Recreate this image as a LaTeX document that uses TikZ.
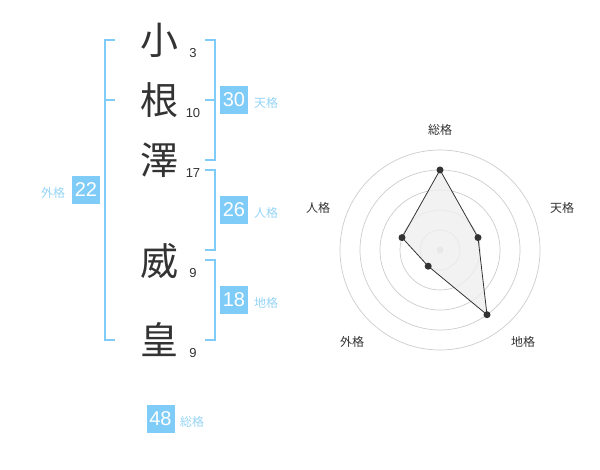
\documentclass[tikz,border=0pt]{standalone}
\usepackage{fontspec}
\setmainfont{Liberation Sans}
\newfontfamily\jp{Noto Sans CJK JP}
\definecolor{sky}{RGB}{128,204,248}
\definecolor{skylab}{RGB}{150,212,246}
\definecolor{ink}{RGB}{51,51,51}
\definecolor{ring}{RGB}{204,204,204}
\begin{document}
\begin{tikzpicture}[x=1pt,y=-1pt,
  kanji/.style={font=\jp\fontsize{38}{38}\selectfont, text=ink, inner sep=0pt},
  strokes/.style={font=\fontsize{13}{13}\selectfont, text=ink, inner sep=0pt},
  numbox/.style={fill=sky, text=white, minimum width=28pt, minimum height=28pt, inner sep=0pt, font=\fontsize{20}{20}\selectfont},
  lab/.style={font=\jp\fontsize{12}{12}\selectfont, text=skylab, inner sep=0pt},
  rlab/.style={font=\jp\fontsize{12}{12}\selectfont, text=ink, inner sep=0pt},
  brk/.style={draw=sky, line width=2pt},
  ringline/.style={draw=ring, line width=0.7pt},
  dot/.style={circle, fill=ink, minimum size=7pt, inner sep=0pt}]
\useasboundingbox (0,0) rectangle (600,470);
% characters
\node[kanji] (c1) at (159,40) {小};
\node[kanji] (c2) at (159,100) {根};
\node[kanji] (c3) at (159,160) {澤};
\node[kanji] (c4) at (159,261) {威};
\node[kanji] (c5) at (159,340) {皇};
\node[strokes] (s1) at (193,53) {3};
\node[strokes] (s2) at (193,113) {10};
\node[strokes] (s3) at (193,173) {17};
\node[strokes] (s4) at (193,273) {9};
\node[strokes] (s5) at (193,353) {9};
% brackets
\draw[brk] (115,40) -- (105,40) -- (105,340) -- (115,340);
\draw[brk] (105,100) -- (115,100);
\draw[brk] (205,40) -- (215,40) -- (215,160) -- (205,160);
\draw[brk] (215,100) -- (205,100);
\draw[brk] (205,170) -- (215,170) -- (215,250) -- (205,250);
\draw[brk] (205,260) -- (215,260) -- (215,340) -- (205,340);
% boxes
\node[numbox] (ten) at (234,100) {30};
\node[lab] (tenl) at (266,103) {天格};
\node[numbox] (jin) at (234,210) {26};
\node[lab] (jinl) at (266,213) {人格};
\node[numbox] (chi) at (234,300) {18};
\node[lab] (chil) at (266,303) {地格};
\node[numbox] (gai) at (86,190) {22};
\node[lab] (gail) at (53,193) {外格};
\node[numbox] (sou) at (160.5,419) {48};
\node[lab] (soul) at (192,422) {総格};
% radar
\coordinate (c) at (440,250);
\foreach \r in {20,40,60,80,100} \draw[ringline] (c) circle[radius=\r pt];
\fill[ring] (c) circle[radius=3.5pt];
\coordinate (p1) at (440,170);
\coordinate (p2) at (478.0,237.6);
\coordinate (p3) at (487.0,314.7);
\coordinate (p4) at (428.2,266.2);
\coordinate (p5) at (402.0,237.6);
\filldraw[fill=ink!8, fill opacity=0.8, draw=ink, line width=0.8pt] (p1) -- (p2) -- (p3) -- (p4) -- (p5) -- cycle;
\foreach \p in {p1,p2,p3,p4,p5} \node[dot] at (\p) {};
\node[rlab] (r1) at (440,130) {総格};
\node[rlab] (r2) at (562,208) {天格};
\node[rlab] (r3) at (523,342) {地格};
\node[rlab] (r4) at (352,342) {外格};
\node[rlab] (r5) at (318,208) {人格};
\end{tikzpicture}
\end{document}
